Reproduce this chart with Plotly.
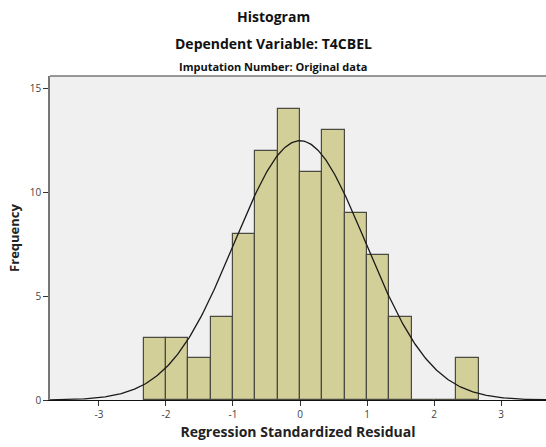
import numpy as np
import plotly.graph_objects as go

# Histogram of regression standardized residuals (bin width 1/3)
bin_lefts = [-7/3, -2, -5/3, -4/3, -1, -2/3, -1/3, 0, 1/3, 2/3, 1, 4/3, 5/3, 2, 7/3]
counts = [3, 3, 2, 4, 8, 12, 14, 11, 13, 9, 7, 4, 0, 0, 2]
bin_width = 1/3

# Fitted normal curve parameters
resid_mean = 0.0
resid_sd = 0.98
n_obs = sum(counts)

x_ticks = [-3, -2, -1, 0, 1, 2, 3]
y_ticks = [0, 5, 10, 15]

centers = [b + bin_width / 2 for b in bin_lefts]

xs = np.linspace(-3.75, 3.7, 400)
ys = n_obs * bin_width / (resid_sd * np.sqrt(2 * np.pi)) * np.exp(-0.5 * ((xs - resid_mean) / resid_sd) ** 2)

fig = go.Figure()
fig.add_trace(go.Bar(
    x=centers, y=counts, width=bin_width,
    marker=dict(color="#D3CF98", line=dict(color="#4a4a42", width=1.2)),
    hoverinfo="x+y",
))
fig.add_trace(go.Scatter(
    x=xs, y=ys, mode="lines",
    line=dict(color="#1a1a1a", width=1.3),
    hoverinfo="skip",
))

font_family = "Open Sans, DejaVu Sans, sans-serif"

fig.update_layout(
    width=546, height=447,
    margin=dict(l=50, r=0, t=76, b=47),
    paper_bgcolor="white",
    plot_bgcolor="#F0F0F0",
    showlegend=False,
    bargap=0,
    font=dict(family=font_family, color="#222222"),
    xaxis=dict(
        range=[-3.73, 3.67],
        tickvals=x_ticks,
        ticktext=[str(v) for v in x_ticks],
        ticks="outside", ticklen=5, tickcolor="#333333",
        tickfont=dict(size=10, color="#444444"),
        showgrid=False, zeroline=False,
        showline=True, linecolor="#111111", linewidth=1.2,
        title=dict(text="<b>Regression Standardized Residual</b>",
                   font=dict(size=14, color="#222222"), standoff=7),
    ),
    yaxis=dict(
        range=[0, 15.6],
        tickvals=y_ticks,
        ticks="outside", ticklen=5, tickcolor="#333333",
        tickfont=dict(size=10, color="#444444"),
        showgrid=False, zeroline=False,
        showline=True, linecolor="#777777", linewidth=1.5,
        mirror=False,
        title=dict(text="<b>Frequency</b>", font=dict(size=13, color="#222222"), standoff=7),
    ),
    shapes=[dict(type="line", xref="paper", yref="paper", x0=0, x1=1, y0=1, y1=1,
                 line=dict(color="#777777", width=1.5))],
    annotations=[
        dict(text="<b>Histogram</b>", x=0.5, xref="paper", y=16, yref="paper",
             yanchor="middle", showarrow=False, font=dict(size=14, color="#111111")),
        dict(text="<b>Dependent Variable: T4CBEL</b>", x=0.5, xref="paper", y=43,
             yanchor="middle", showarrow=False, font=dict(size=14, color="#111111")),
        dict(text="<b>Imputation Number: Original data</b>", x=0.5, xref="paper", y=66,
             yanchor="middle", showarrow=False, font=dict(size=11, color="#111111")),
    ],
)

# Place the title annotations in pixel terms above the plot area
plot_h = 447 - 76 - 47
for ann in fig.layout.annotations:
    px_y = ann.y
    ann.y = 1 + (76 - px_y) / plot_h
    ann.yref = "paper"
    ann.x = (273 - 50) / 496

fig.write_html("out.html")
